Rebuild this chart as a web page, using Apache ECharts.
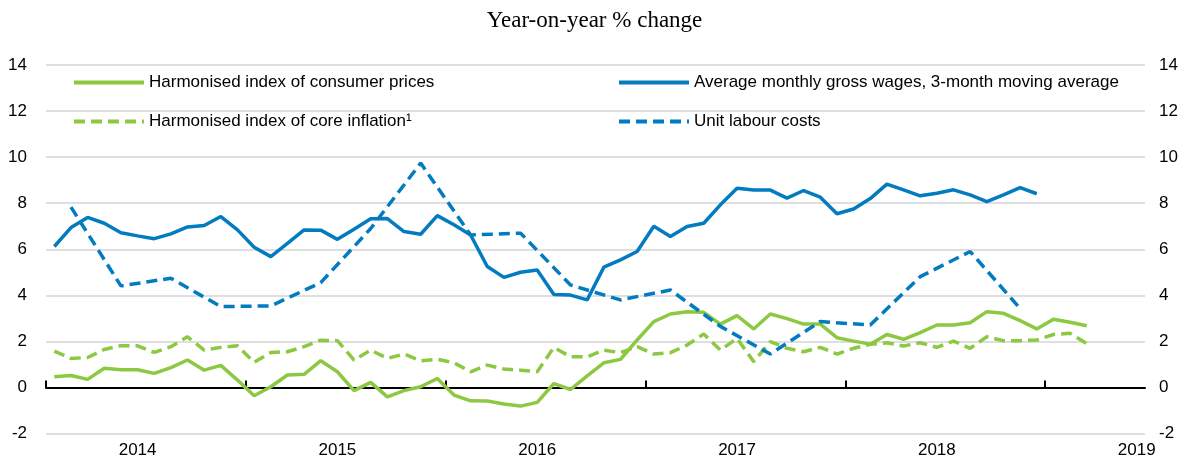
<!DOCTYPE html>
<html>
<head>
<meta charset="utf-8">
<script src="https://cdn.jsdelivr.net/npm/echarts@6/dist/echarts.min.js"></script>
<style>
  html, body { margin: 0; padding: 0; background: #fff; }
  #main { width: 1189px; height: 462px; }
</style>
</head>
<body>
<div id="main"></div>
<script>
// years shown on the x axis (monthly data, Jan 2014 - Jun 2019)
const years = ['2014', '2015', '2016', '2017', '2018', '2019']
const monthsInLastYear = 6

// Harmonised index of consumer prices, Jan 2014 - Mar 2019
const hicp = [
  0.46, 0.52, 0.35, 0.83, 0.77, 0.77, 0.61, 0.86, 1.19, 0.75, 0.96, 0.32,
  -0.36, 0.03, 0.54, 0.57, 1.16, 0.68, -0.14, 0.22, -0.41, -0.14, 0.03, 0.39,
  -0.33, -0.58, -0.59, -0.72, -0.81, -0.65, 0.17, -0.09, 0.5, 1.07, 1.22, 2.06,
  2.86, 3.19, 3.29, 3.26, 2.75, 3.12, 2.54, 3.19, 2.99, 2.75, 2.75, 2.16,
  2.01, 1.88, 2.3, 2.09, 2.38, 2.71, 2.71, 2.81, 3.29, 3.22, 2.9, 2.54,
  2.96, 2.83, 2.68
]
// Harmonised index of core inflation, Jan 2014 - Mar 2019
const core = [
  1.58, 1.26, 1.3, 1.65, 1.81, 1.81, 1.52, 1.77, 2.2, 1.62, 1.74, 1.81,
  1.09, 1.52, 1.55, 1.77, 2.05, 2.03, 1.19, 1.62, 1.26, 1.45, 1.16, 1.22,
  1.07, 0.68, 0.97, 0.8, 0.75, 0.68, 1.74, 1.33, 1.33, 1.62, 1.51, 1.77,
  1.45, 1.51, 1.84, 2.32, 1.62, 2.13, 1.12, 1.99, 1.7, 1.55, 1.74, 1.45,
  1.7, 1.87, 1.94, 1.8, 1.94, 1.74, 2.01, 1.7, 2.2, 2.03, 2.03, 2.06,
  2.3, 2.35, 1.9
]
// Average monthly gross wages, 3-month moving average, Jan 2014 - Dec 2018
const wages = [
  6.12, 6.94, 7.38, 7.13, 6.72, 6.58, 6.46, 6.67, 6.97, 7.03, 7.42, 6.84,
  6.09, 5.68, 6.26, 6.84, 6.83, 6.43, 6.87, 7.32, 7.33, 6.77, 6.65, 7.46,
  7.06, 6.62, 5.25, 4.78, 5.0, 5.1, 4.04, 4.01, 3.8, 5.22, 5.54, 5.9,
  7.0, 6.55, 6.99, 7.13, 7.93, 8.65, 8.57, 8.57, 8.22, 8.55, 8.26, 7.54,
  7.75, 8.2, 8.83, 8.58, 8.32, 8.43, 8.58, 8.36, 8.07, 8.36, 8.68, 8.41
]
// Unit labour costs, quarterly (plotted at mid-quarter month), 2014Q1 - 2018Q4
const ulcQuarterly = [
  7.83, 4.41, 4.74, 3.51,
  3.54, 4.55, 6.9, 9.74,
  6.62, 6.7, 4.45, 3.8,
  4.23, 2.65, 1.45, 2.86,
  2.71, 4.81, 5.9, 3.43
]
const yTicks = { min: -2, max: 14, interval: 2 }

// monthly categories
const months = []
years.forEach((y, i) => {
  const n = i === years.length - 1 ? monthsInLastYear : 12
  for (let m = 1; m <= n; m++) months.push(y + '-' + (m < 10 ? '0' + m : m))
})
// quarterly values sit on the middle month of each quarter
const ulc = months.map(() => null)
ulcQuarterly.forEach((v, q) => { ulc[q * 3 + 1] = v })
// start of each year (in months) for the ticks on the zero line
const yearStarts = years.map((y, i) => i * 12)

const green = '#8CC841'
const blue = '#037BC1'
const font = '"Liberation Sans", Arial, sans-serif'

const chart = echarts.init(document.getElementById('main'))
const legendBase = {
  orient: 'vertical',
  top: 74,
  padding: 0,
  itemWidth: 70,
  itemHeight: 16,
  itemGap: 22,
  itemStyle: { opacity: 0 }, // no symbol, only the line
  lineStyle: { width: 4 },
  textStyle: { fontSize: 17, color: '#000', fontFamily: font }
}

const option = {
  animation: false,
  title: {
    text: 'Year-on-year % change',
    left: 'center',
    top: 4,
    textStyle: { fontFamily: '"Liberation Serif", "Times New Roman", serif', fontSize: 23, fontWeight: 'normal', color: '#000' }
  },
  legend: [
    Object.assign({}, legendBase, {
      data: ['Harmonised index of consumer prices', 'Harmonised index of core inflation\u00b9'],
      left: 72
    }),
    Object.assign({}, legendBase, {
      data: ['Average monthly gross wages, 3-month moving average', 'Unit labour costs'],
      left: 617
    })
  ],
  grid: { left: 46, right: 44, top: 65, bottom: 28.5 },
  xAxis: [
    {
      // year labels at the bottom
      type: 'category',
      data: months,
      position: 'bottom',
      axisLine: { show: false, onZero: false },
      axisTick: { show: false },
      axisLabel: {
        interval: (index) => index % 12 === 5,
        formatter: (v) => v.slice(0, 4),
        fontSize: 17,
        color: '#000',
        fontFamily: font,
        margin: 8
      },
      splitLine: { show: false }
    },
    {
      // black zero line with year ticks
      type: 'value',
      min: 0,
      max: months.length,
      position: 'bottom',
      axisLine: { show: true, onZero: true, lineStyle: { color: '#000', width: 2 } },
      axisTick: { show: true, inside: true, customValues: yearStarts, length: 7, lineStyle: { color: '#000', width: 2 } },
      axisLabel: { show: false },
      splitLine: { show: false }
    }
  ],
  yAxis: [
    {
      type: 'value',
      position: 'left',
      min: yTicks.min,
      max: yTicks.max,
      interval: yTicks.interval,
      axisLine: { show: false },
      axisTick: { show: false },
      axisLabel: { fontSize: 17, color: '#000', fontFamily: font, margin: 19 },
      splitLine: { show: true, lineStyle: { color: '#D4D4D4', width: 1.5 } }
    },
    {
      type: 'value',
      position: 'right',
      min: yTicks.min,
      max: yTicks.max,
      interval: yTicks.interval,
      axisLine: { show: false },
      axisTick: { show: false },
      axisLabel: { fontSize: 17, color: '#000', fontFamily: font, margin: 14 },
      splitLine: { show: false }
    }
  ],
  series: [
    {
      name: 'Harmonised index of consumer prices',
      type: 'line',
      data: hicp,
      symbol: 'none',
      color: green,
      lineStyle: { color: green, width: 3.5 }
    },
    {
      name: 'Harmonised index of core inflation\u00b9',
      type: 'line',
      data: core,
      symbol: 'none',
      color: green,
      lineStyle: { color: green, width: 3.5, type: [11, 6] }
    },
    {
      name: 'Average monthly gross wages, 3-month moving average',
      type: 'line',
      data: wages,
      symbol: 'none',
      color: blue,
      lineStyle: { color: blue, width: 3.5 }
    },
    {
      name: 'Unit labour costs',
      type: 'line',
      data: ulc,
      connectNulls: true,
      symbol: 'none',
      color: blue,
      lineStyle: { color: blue, width: 3.5, type: [11, 6] }
    }
  ]
}

chart.setOption(option)
window.addEventListener('resize', () => {
  chart.resize()
})
</script>
</body>
</html>
